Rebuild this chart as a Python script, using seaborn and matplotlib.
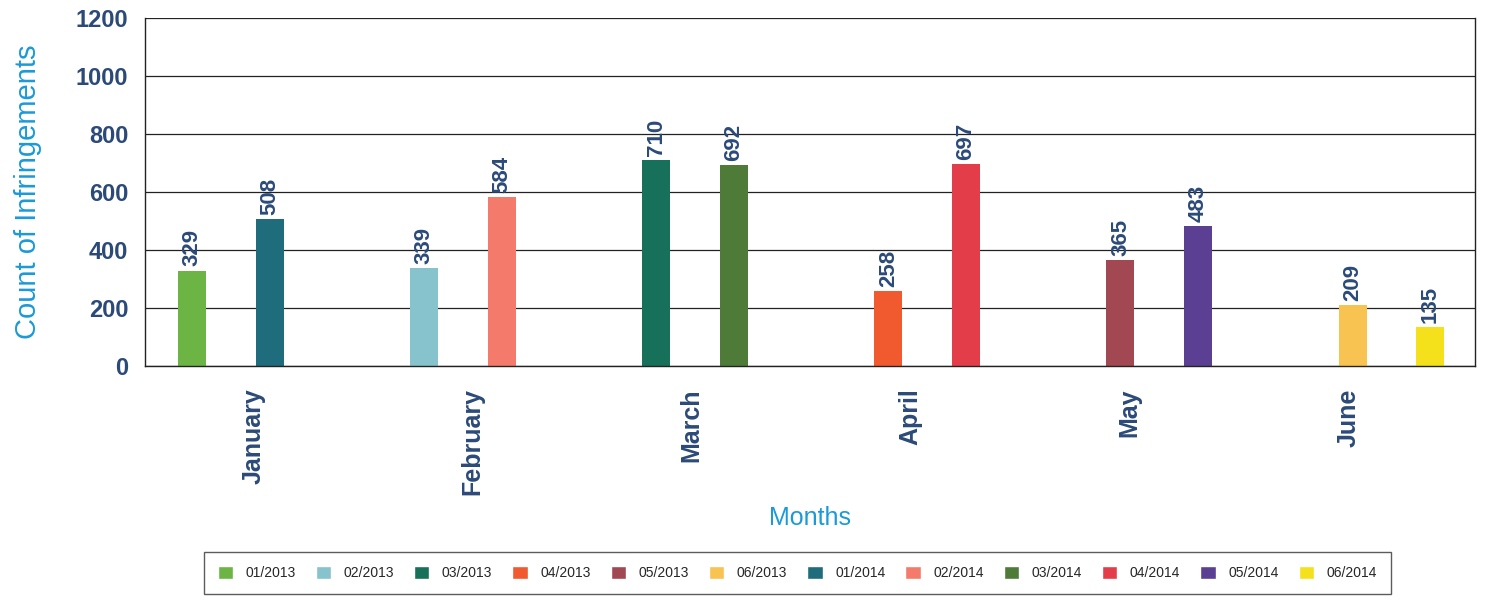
import matplotlib
matplotlib.use("Agg")
import matplotlib.pyplot as plt
import matplotlib.patches as mpatches
import seaborn as sns
import pandas as pd

months = ["January", "February", "March", "April", "May", "June"]
series_2013 = ["01/2013", "02/2013", "03/2013", "04/2013", "05/2013", "06/2013"]
series_2014 = ["01/2014", "02/2014", "03/2014", "04/2014", "05/2014", "06/2014"]
values_2013 = [329, 339, 710, 258, 365, 209]
values_2014 = [508, 584, 692, 697, 483, 135]
yticks = [0, 200, 400, 600, 800, 1000, 1200]

colors = {
    "01/2013": "#6cb443", "02/2013": "#86c3cc", "03/2013": "#17705a",
    "04/2013": "#f15a2e", "05/2013": "#a24852", "06/2013": "#f8c350",
    "01/2014": "#1f6c7c", "02/2014": "#f47b6b", "03/2014": "#4e7c38",
    "04/2014": "#e33d4a", "05/2014": "#5a3f92", "06/2014": "#f4e11b",
}

rows = []
for m, s1, v1, s2, v2 in zip(months, series_2013, values_2013, series_2014, values_2014):
    rows.append({"month": m, "slot": "2013", "series": s1, "value": v1})
    rows.append({"month": m, "slot": "2014", "series": s2, "value": v2})
df = pd.DataFrame(rows)

sns.set_style("white")
plt.rcParams["font.family"] = ["Liberation Sans", "DejaVu Sans"]

navy = "#2b4a78"
lblue = "#1b9ad8"

fig = plt.figure(figsize=(14.93, 6.03), dpi=100)
ax = fig.add_axes([0.097, 0.393, 0.891, 0.577])

sns.barplot(data=df, x="month", y="value", hue="slot", order=months,
            hue_order=["2013", "2014"], width=0.67, gap=0.64, ax=ax,
            legend=False, errorbar=None)

slots = ["2013", "2014"]
for j, cont in enumerate(ax.containers):
    for i, bar in enumerate(cont):
        sub = df[(df.month == months[i]) & (df.slot == slots[j])]
        bar.set_facecolor(colors[sub.series.iloc[0]])
        bar.set_edgecolor("none")
    ax.bar_label(cont, labels=[str(int(b.get_height())) for b in cont],
                 rotation=90, padding=3, color=navy, fontsize=16,
                 fontweight="bold")

ax.set_xlim(-0.37, 5.36)
ax.set_ylim(0, 1200)
ax.set_yticks(yticks)
ax.set_yticklabels([str(t) for t in yticks], color=navy, fontsize=17,
                   fontweight="bold")
ax.tick_params(axis="y", length=0, pad=12)
ax.tick_params(axis="x", length=0, pad=16)
# month labels sit slightly off the group centres (perspective of the original)
ax.set_xticks([0.10 + 0.943 * i for i in range(len(months))])
ax.set_xticklabels(months, rotation=90, color=navy, fontsize=18,
                   fontweight="bold", va="top")
ax.yaxis.grid(True, color="#222222", linewidth=0.9)
ax.set_axisbelow(True)
for sp in ax.spines.values():
    sp.set_color("#222222")
    sp.set_linewidth(1.0)
ax.spines["top"].set_visible(False)

ax.set_ylabel("Count of Infringements", color=lblue, fontsize=21, labelpad=24)
ax.set_xlabel("Months", color=lblue, fontsize=18, labelpad=8)

handles = [mpatches.Patch(facecolor=colors[s], label=s)
           for s in series_2013 + series_2014]
leg = fig.legend(handles=handles, loc="center", bbox_to_anchor=(0.534, 0.05),
                 ncol=12, fontsize=10, frameon=True, fancybox=False,
                 edgecolor="#333333", handlelength=1.1, handleheight=1.1,
                 columnspacing=1.45, borderpad=1.0, handletextpad=0.9)
leg.get_frame().set_linewidth(1.0)

fig.savefig("out.png", dpi=100)
